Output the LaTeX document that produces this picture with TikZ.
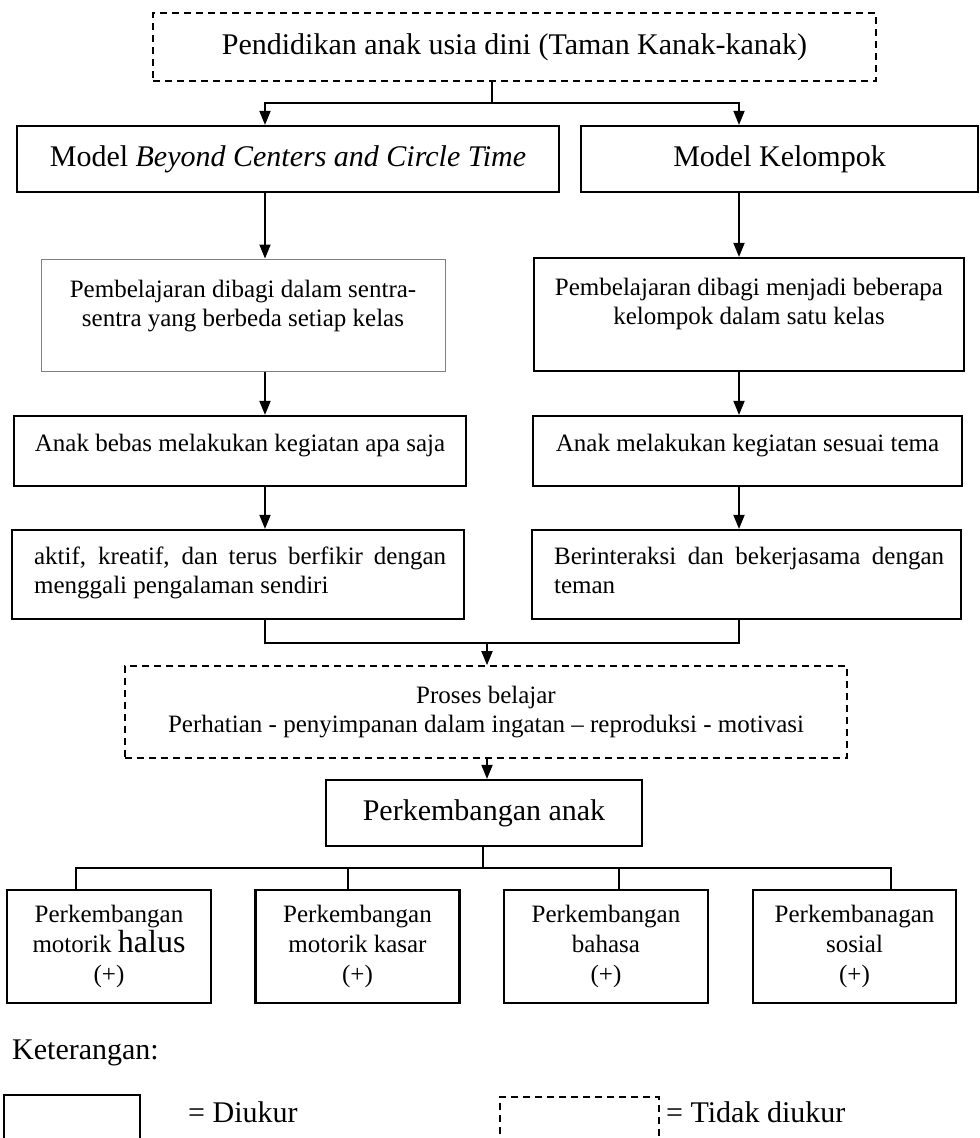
\documentclass[tikz,border=0pt]{standalone}
\usepackage{fontspec}
\setmainfont{Liberation Serif}
\usetikzlibrary{positioning, arrows.meta}

\tikzset{
  kotak/.style={draw, line width=2.2pt, inner sep=0pt, align=center},
  kotaktipis/.style={draw=black!50, line width=1pt, inner sep=0pt},
  putus/.style={draw, line width=1.7pt, dash pattern=on 7pt off 5pt, inner sep=0pt, align=center},
  garis/.style={line width=1.8pt},
  panah/.style={garis, -{Triangle[length=14pt,width=11pt]}},
  besar/.style={font=\fontsize{30}{34}\selectfont},
  kecil/.style={font=\fontsize{25}{29}\selectfont},
  cabang/.style={font=\fontsize{25}{30}\selectfont},
  teks/.style={inner sep=0pt}
}

\begin{document}
\begin{tikzpicture}[x=1pt,y=-1pt]
        \useasboundingbox (0,0) rectangle (980,1138);
        \clip (0,0) rectangle (980,1138);
        %jalur panah kiri dan kanan
        \coordinate (kiri) at (265,0);
        \coordinate (kanan) at (739,0);
        \coordinate (c1) at (492,103);
        \coordinate (c2) at (487,643);
        \coordinate (c3) at (483,868);
        %judul
        \node[putus, besar, minimum width=723pt, minimum height=68pt] (paud) at (514.5,47) {Pendidikan anak usia dini (Taman Kanak-kanak)};
        %dua model
        \node[kotak, besar, minimum width=542pt, minimum height=66pt] (bcct) at (288,159) {Model \textit{Beyond Centers and Circle Time}};
        \node[kotak, besar, minimum width=397pt, minimum height=66pt] (kelompok) at (779.5,159) {Model Kelompok};
        %pembelajaran
        \node[kotaktipis, minimum width=404pt, minimum height=112pt] (sentra) at (243,315) {};
        \node[teks, kecil, align=center, below=21pt of sentra.north] (sentrateks) {Pembelajaran dibagi dalam sentra-\\sentra yang berbeda setiap kelas};
        \node[kotak, minimum width=430pt, minimum height=113pt] (bagi) at (749,314.5) {};
        \node[teks, kecil, align=center, below=21pt of bagi.north] (bagiteks) {Pembelajaran dibagi menjadi beberapa\\kelompok dalam satu kelas};
        %kegiatan
        \node[kotak, minimum width=452pt, minimum height=70pt] (bebas) at (240,451) {};
        \node[teks, kecil, below=19pt of bebas.north] (bebasteks) {Anak bebas melakukan kegiatan apa saja};
        \node[kotak, minimum width=429pt, minimum height=70pt] (tema) at (747.5,451) {};
        \node[teks, kecil, below=19pt of tema.north] (temateks) {Anak melakukan kegiatan sesuai tema};
        %hasil
        \node[kotak, minimum width=452pt, minimum height=89pt] (aktif) at (238,574.5) {};
        \node[teks, kecil, text width=412pt, align=justify, below right=18pt and 23pt of aktif.north west] (aktifteks) {aktif, kreatif, dan terus berfikir dengan\linebreak menggali pengalaman sendiri};
        \node[kotak, minimum width=429pt, minimum height=89pt] (teman) at (746.5,574.5) {};
        \node[teks, kecil, text width=390pt, align=justify, below right=18pt and 23pt of teman.north west] (temanteks) {Berinteraksi dan bekerjasama dengan\linebreak teman};
        %proses belajar
        \node[putus, kecil, minimum width=722pt, minimum height=92pt] (proses) at (486,712) {Proses belajar\\Perhatian - penyimpanan dalam ingatan – reproduksi - motivasi};
        \node[kotak, besar, minimum width=316pt, minimum height=66pt] (pa) at (484,813) {Perkembangan anak};
        %empat perkembangan
        \node[kotak, cabang, minimum width=204pt, minimum height=113pt] (halus) at (109,946.5) {Perkembangan\\motorik {\fontsize{32}{30}\selectfont halus}\\(+)};
        \node[kotak, cabang, minimum width=204pt, minimum height=113pt] (kasar) at (357.5,946.5) {Perkembangan\\motorik kasar\\(+)};
        \node[kotak, cabang, minimum width=204pt, minimum height=113pt] (bahasa) at (606,946.5) {Perkembangan\\bahasa\\(+)};
        \node[kotak, cabang, minimum width=203pt, minimum height=113pt] (sosial) at (854.5,946.5) {Perkembanagan\\sosial\\(+)};
        %panah
        \draw[garis] (c1 |- paud.south) -- (c1);
        \draw[panah] (c1) -| (kiri |- bcct.north);
        \draw[panah] (c1) -| (kanan |- kelompok.north);
        \draw[panah] (kiri |- bcct.south) -- (kiri |- sentra.north);
        \draw[panah] (kanan |- kelompok.south) -- (kanan |- bagi.north);
        \draw[panah] (kiri |- sentra.south) -- (kiri |- bebas.north);
        \draw[panah] (kanan |- bagi.south) -- (kanan |- tema.north);
        \draw[panah] (kiri |- bebas.south) -- (kiri |- aktif.north);
        \draw[panah] (kanan |- tema.south) -- (kanan |- teman.north);
        \draw[garis] (kiri |- aktif.south) |- (kanan |- c2) -- (kanan |- teman.south);
        \draw[panah] (c2) -- (c2 |- proses.north);
        \draw[panah] (c2 |- proses.south) -- (c2 |- pa.north);
        \draw[garis] (c3 |- pa.south) -- (c3);
        \foreach \x/\n in {76/halus,348/kasar,619/bahasa,891/sosial}
          \draw[garis] (c3) -| (\x,0 |- \n.north);
        %keterangan
        \node[teks, besar, anchor=west] (ket) at (12,1053) {Keterangan:};
        \node[kotak, minimum width=136pt, minimum height=60pt] (ukur) at (72,1125) {};
        \node[teks, besar, anchor=west] (ukurteks) at (188,1112) {= Diukur};
        \node[putus, minimum width=159pt, minimum height=60pt] (tidak) at (579.5,1127) {};
        \node[teks, besar, anchor=west] (tidakteks) at (666,1112) {= Tidak diukur};
\end{tikzpicture}
\end{document}
